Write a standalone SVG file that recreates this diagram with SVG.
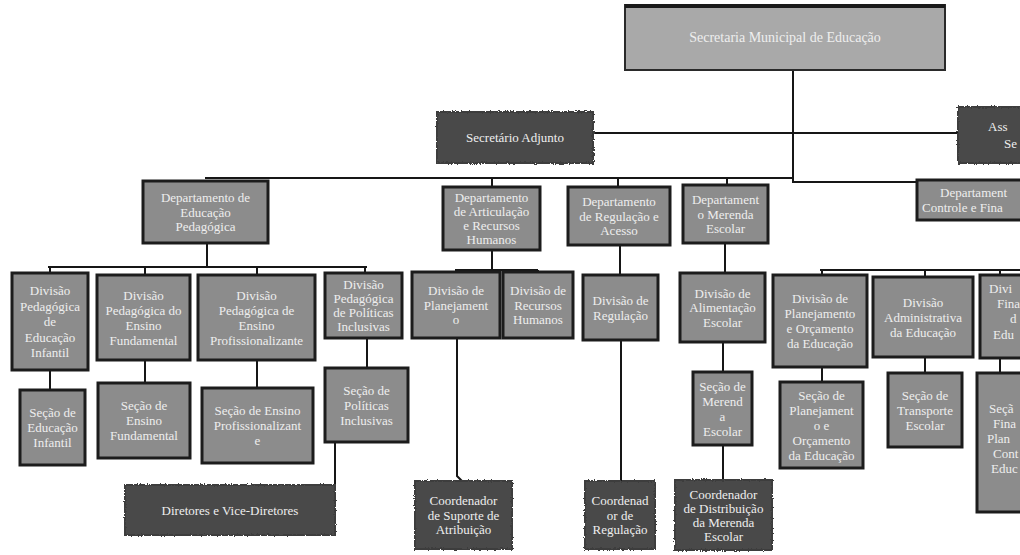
<svg xmlns="http://www.w3.org/2000/svg" width="1020" height="555" viewBox="0 0 1020 555">
<defs>
<filter id="rough" x="-5%" y="-10%" width="110%" height="120%"><feTurbulence type="fractalNoise" baseFrequency="0.7" numOctaves="1" seed="3"/><feDisplacementMap in="SourceGraphic" scale="3.5" xChannelSelector="R" yChannelSelector="G"/></filter>
</defs>
<style>
.bx{fill:#8c8c8c;stroke:#1c1c1c;stroke-width:3}
.top{fill:#a9a9a9;stroke:#2a2a2a;stroke-width:2}
.dk{fill:#4a4a4a;stroke:#3c3c3c;stroke-width:2;filter:url(#rough)}
text{font-family:"Liberation Serif","DejaVu Serif",serif;font-size:13px;fill:#eeeeee;text-anchor:middle}
.st{text-anchor:start}
.ln{fill:none;stroke:#161616;stroke-width:2}
</style>
<rect width="1020" height="555" fill="#ffffff"/>
<g id="connectors" class="ln">
<path d="M793 70V178M205 178H793V182H1020M593 133H958"/>
<path d="M492 178V187M618 178V187M727 178V185"/>
<path d="M207 243V267M48 267H367M50 267V273M145 267V275M257 267V275M365 267V273"/>
<path d="M50 370V390M145 360V383M257 360V388M367 338V368M335 442V485"/>
<path d="M492 250V270M455 270H538M457 270V272M538 270V272M457 338V476L463 482"/>
<path d="M620 245V275M621 340V482"/>
<path d="M725 243V273M723 342V372M723 445V480"/>
<path d="M820 270H1020M822 270V275M925 270V277M1000 270V275M822 367V382M925 357V373M1000 358V373"/>
</g>
<g id="secretaria-municipal"><rect class="top" x="625" y="5" width="320" height="65"/><path d="M625 6H945" stroke="#1a1a1a" stroke-width="4"/><text x="785" y="42" style="font-size:14px">Secretaria Municipal de Educação</text></g>
<g id="secretario-adjunto"><rect class="dk" x="437" y="112" width="156" height="51"/><text x="515" y="142">Secretário Adjunto</text></g>
<g id="assessoria"><rect class="dk" x="958" y="107" width="70" height="56"/><text class="st" x="988" y="131">Ass</text><text class="st" x="1004" y="148">Se</text></g>
<g id="dep-pedagogica"><rect class="bx" x="143" y="181" width="125" height="62"/><text x="205.5" y="202">Departamento de</text><text x="205.5" y="216.5">Educação</text><text x="205.5" y="231">Pedagógica</text></g>
<g id="dep-articulacao"><rect class="bx" x="443" y="187" width="97" height="63"/><text x="491.5" y="202">Departamento</text><text x="491.5" y="216">de Articulação</text><text x="491.5" y="230">e Recursos</text><text x="491.5" y="244">Humanos</text></g>
<g id="dep-regulacao"><rect class="bx" x="568" y="187" width="102" height="58"/><text x="619" y="206">Departamento</text><text x="619" y="220.5">de Regulação e</text><text x="619" y="235">Acesso</text></g>
<g id="dep-merenda"><rect class="bx" x="683" y="185" width="85" height="58"/><text x="725.5" y="204">Departament</text><text x="725.5" y="218.5">o Merenda</text><text x="725.5" y="233">Escolar</text></g>
<g id="dep-controle"><rect class="bx" x="917" y="180" width="110" height="40"/><text class="st" x="940" y="197">Departament</text><text class="st" x="922" y="212">Controle e Fina</text></g>
<g id="div-infantil"><rect class="bx" x="12" y="273" width="76" height="97"/><text x="50" y="295">Divisão</text><text x="50" y="310.5">Pedagógica</text><text x="50" y="326">de</text><text x="50" y="341.5">Educação</text><text x="50" y="357">Infantil</text></g>
<g id="div-fundamental"><rect class="bx" x="97" y="275" width="93" height="85"/><text x="143.5" y="299.5">Divisão</text><text x="143.5" y="314.5">Pedagógica do</text><text x="143.5" y="329.5">Ensino</text><text x="143.5" y="344.5">Fundamental</text></g>
<g id="div-profissionalizante"><rect class="bx" x="198" y="275" width="117" height="85"/><text x="256.5" y="299.5">Divisão</text><text x="256.5" y="314.5">Pedagógica de</text><text x="256.5" y="329.5">Ensino</text><text x="256.5" y="344.5">Profissionalizante</text></g>
<g id="div-inclusivas"><rect class="bx" x="325" y="273" width="77" height="65"/><text x="363.5" y="289">Divisão</text><text x="363.5" y="303">Pedagógica</text><text x="363.5" y="317">de Políticas</text><text x="363.5" y="331">Inclusivas</text></g>
<g id="sec-infantil"><rect class="bx" x="20" y="390" width="65" height="75"/><text x="52.5" y="417">Seção de</text><text x="52.5" y="432">Educação</text><text x="52.5" y="447">Infantil</text></g>
<g id="sec-fundamental"><rect class="bx" x="98" y="383" width="92" height="75"/><text x="144" y="410">Seção de</text><text x="144" y="425">Ensino</text><text x="144" y="440">Fundamental</text></g>
<g id="sec-profissionalizante"><rect class="bx" x="202" y="388" width="111" height="75"/><text x="257.5" y="415">Seção de Ensino</text><text x="257.5" y="430">Profissionalizant</text><text x="257.5" y="445">e</text></g>
<g id="sec-inclusivas"><rect class="bx" x="325" y="368" width="83" height="74"/><text x="366.5" y="394.5">Seção de</text><text x="366.5" y="409.5">Políticas</text><text x="366.5" y="424.5">Inclusivas</text></g>
<g id="diretores"><rect class="dk" x="125" y="485" width="210" height="50"/><text x="230" y="514.5">Diretores e Vice-Diretores</text></g>
<g id="div-planejamento"><rect class="bx" x="412" y="272" width="88" height="66"/><text x="456" y="295">Divisão de</text><text x="456" y="309.5">Planejament</text><text x="456" y="324">o</text></g>
<g id="div-rh"><rect class="bx" x="503" y="272" width="70" height="66"/><text x="538" y="295">Divisão de</text><text x="538" y="309.5">Recursos</text><text x="538" y="324">Humanos</text></g>
<g id="div-regulacao"><rect class="bx" x="583" y="275" width="75" height="65"/><text x="620.5" y="305">Divisão de</text><text x="620.5" y="319.5">Regulação</text></g>
<g id="div-alimentacao"><rect class="bx" x="680" y="273" width="85" height="69"/><text x="722.5" y="297.5">Divisão de</text><text x="722.5" y="312">Alimentação</text><text x="722.5" y="326.5">Escolar</text></g>
<g id="sec-merenda"><rect class="bx" x="693" y="372" width="59" height="73"/><text x="722.5" y="390.5">Seção de</text><text x="722.5" y="405.5">Merend</text><text x="722.5" y="420.5">a</text><text x="722.5" y="435.5">Escolar</text></g>
<g id="div-plan-orc"><rect class="bx" x="773" y="275" width="94" height="92"/><text x="820" y="303">Divisão de</text><text x="820" y="318">Planejamento</text><text x="820" y="333">e Orçamento</text><text x="820" y="348">da Educação</text></g>
<g id="div-administrativa"><rect class="bx" x="873" y="277" width="100" height="80"/><text x="923" y="306.5">Divisão</text><text x="923" y="321.5">Administrativa</text><text x="923" y="336.5">da Educação</text></g>
<g id="div-financeira"><rect class="bx" x="980" y="275" width="50" height="83"/><text class="st" x="989" y="293">Divi</text><text class="st" x="997" y="308">Fina</text><text class="st" x="1010" y="323">d</text><text class="st" x="993" y="339">Edu</text></g>
<g id="sec-plan-orc"><rect class="bx" x="780" y="382" width="83" height="86"/><text x="821.5" y="399.5">Seção de</text><text x="821.5" y="414.5">Planejament</text><text x="821.5" y="429.5">o e</text><text x="821.5" y="444.5">Orçamento</text><text x="821.5" y="459.5">da Educação</text></g>
<g id="sec-transporte"><rect class="bx" x="888" y="373" width="74" height="74"/><text x="925" y="399.5">Seção de</text><text x="925" y="414.5">Transporte</text><text x="925" y="429.5">Escolar</text></g>
<g id="sec-financeira"><rect class="bx" x="977" y="373" width="50" height="139"/><text class="st" x="989" y="413">Seçã</text><text class="st" x="993" y="428">Fina</text><text class="st" x="987" y="443">Plan</text><text class="st" x="993" y="458">Cont</text><text class="st" x="991" y="473">Educ</text></g>
<g id="coord-suporte"><rect class="dk" x="415" y="481" width="97" height="68"/><text x="463.5" y="505">Coordenador</text><text x="463.5" y="519.5">de Suporte de</text><text x="463.5" y="534">Atribuição</text></g>
<g id="coord-regulacao"><rect class="dk" x="585" y="481" width="70" height="68"/><text x="620" y="505">Coordenad</text><text x="620" y="519.5">or de</text><text x="620" y="534">Regulação</text></g>
<g id="coord-distribuicao"><rect class="dk" x="675" y="480" width="97" height="70"/><text x="723.5" y="498.5">Coordenador</text><text x="723.5" y="512.5">de Distribuição</text><text x="723.5" y="526.5">da Merenda</text><text x="723.5" y="540.5">Escolar</text></g>
</svg>
